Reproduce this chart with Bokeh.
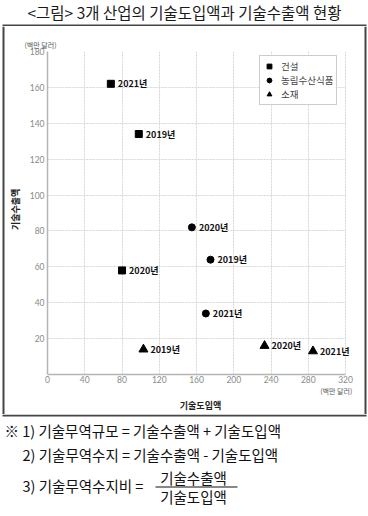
from bokeh.plotting import figure
from bokeh.layouts import column, row
from bokeh.models import (Range1d, FixedTicker, LabelSet, ColumnDataSource, Legend,
                          LegendItem, Title, LinearAxis)
from bokeh.core.properties import value
from bokeh.embed import file_html
from bokeh.resources import INLINE

# ---- data ----
years = ["2019년", "2020년", "2021년"]
industries = ["건설", "농림수산식품", "소재"]
construction_import = [98, 80, 68]
construction_export = [134, 58, 162]
agri_import = [175, 155, 170]
agri_export = [64, 82, 34]
material_import = [103, 233, 285]
material_export = [14, 16, 13]
x_ticks = [0, 40, 80, 120, 160, 200, 240, 280, 320]
y_ticks = [20, 40, 60, 80, 100, 120, 140, 160, 180]

title_text = "<그림> 3개 산업의 기술도입액과 기술수출액 현황"
unit_text = "(백만 달러)"
x_title = "기술도입액"
y_title = "기술수출액"
note1 = "※ 1) 기술무역규모 = 기술수출액 + 기술도입액"
note2 = "2) 기술무역수지 = 기술수출액 - 기술도입액"
note3 = "3) 기술무역수지비 ="
frac_num = "기술수출액"
frac_den = "기술도입액"

KR = "Noto Sans CJK KR"
TICKF = "Lato"
W = 368
FRAME = "#454545"


def blank(width, height, x0, x1, y_top, y_bottom):
    f = figure(width=width, height=height, x_range=Range1d(x0, x1),
               y_range=Range1d(y_bottom, y_top), output_backend="svg", toolbar_location=None,
               x_axis_location=None, y_axis_location=None, frame_align=False,
               min_border_left=0, min_border_right=0, min_border_top=0, min_border_bottom=0)
    f.outline_line_color = None
    f.xgrid.visible = False
    f.ygrid.visible = False
    return f


def no_ticks(ax):
    ax.major_tick_line_color = None
    ax.minor_tick_line_color = None
    ax.major_tick_out = 0
    ax.major_tick_in = 0
    ax.minor_tick_out = 0
    ax.minor_tick_in = 0


# ---- title strip (page y 0..26) with the top edge of the frame box ----
ft = blank(W, 26, 0, W, 0, 26)
ft.text(x=[W / 2], y=[11.5], text=[title_text], text_font=value(KR), text_font_size="15.5px",
        text_color="#1a1a1a", text_align="center", text_baseline="middle")
ft.segment(x0=[2], y0=[25], x1=[366], y1=[25], line_color=FRAME, line_width=2)

# ---- side strips (page y 26..414) with the vertical edges of the frame box ----
ls = blank(6, 388, 0, 6, 26, 414)
ls.segment(x0=[3], y0=[26], x1=[3], y1=[414], line_color=FRAME, line_width=2)
rs = blank(6, 388, 362, 368, 26, 414)
rs.segment(x0=[365], y0=[26], x1=[365], y1=[414], line_color=FRAME, line_width=2)

# ---- chart (page x 6..362, y 26..414); frame runs a little past 320 so labels are not cut ----
X_END = 328.5
p = figure(width=356, height=388, x_range=Range1d(0, X_END), y_range=Range1d(0, 180),
           output_backend="svg", toolbar_location=None, frame_align=False,
           min_border_left=38, min_border_right=9, min_border_top=25, min_border_bottom=39)
p.outline_line_color = None
p.background_fill_color = "white"
p.border_fill_color = "white"

for ax in (p.xaxis[0], p.yaxis[0]):
    ax.axis_line_color = "#b5b5b5"
    ax.axis_line_width = 1.5
    no_ticks(ax)
    ax.major_label_text_font = TICKF
    ax.major_label_text_font_size = "8.5px"
    ax.major_label_text_color = "#8a8a8a"
p.xaxis.ticker = FixedTicker(ticks=x_ticks)
p.yaxis.ticker = FixedTicker(ticks=y_ticks)
p.xaxis.bounds = (0, 320)
p.xaxis.major_label_standoff = 1
p.yaxis.major_label_standoff = 3

p.xgrid.ticker = FixedTicker(ticks=x_ticks[1:])
p.ygrid.ticker = FixedTicker(ticks=y_ticks)
p.ygrid.cross_bounds = (0, 320)
for g in (p.xgrid[0], p.ygrid[0]):
    g.grid_line_color = "#d6d6d6"
    g.grid_line_dash = "2 1"
    g.grid_line_width = 1

r1 = p.scatter(construction_import, construction_export, marker="square", size=7, color="black")
r2 = p.scatter(agri_import, agri_export, marker="circle", size=7, color="black")
r3 = p.scatter(material_import, material_export, marker="triangle", size=9, color="black")

for xs, ys in ((construction_import, construction_export), (agri_import, agri_export),
               (material_import, material_export)):
    src = ColumnDataSource(dict(x=xs, y=ys, t=years))
    p.add_layout(LabelSet(x="x", y="y", text="t", source=src, x_offset=7, y_offset=0,
                          text_baseline="middle", text_align="left", text_font=value(KR),
                          text_font_style="bold", text_font_size="9px", text_color="#111111"))

legend = Legend(items=[LegendItem(label=industries[0], renderers=[r1]),
                       LegendItem(label=industries[1], renderers=[r2]),
                       LegendItem(label=industries[2], renderers=[r3])],
                location=(212, 269), orientation="vertical")
legend.label_text_font = KR
legend.label_text_font_size = "9.5px"
legend.label_text_color = "#444444"
legend.glyph_width = 12
legend.glyph_height = 12
legend.label_height = 12
legend.label_standoff = 6
legend.spacing = 0
legend.padding = 3
legend.margin = 0
legend.border_line_color = "#9a9a9a"
legend.border_line_width = 1
legend.background_fill_color = "white"
legend.background_fill_alpha = 1
p.add_layout(legend, "center")

# unit label above the y axis
p.add_layout(Title(text=unit_text, align="left", offset=-23, standoff=3, text_font=KR,
                   text_font_size="7px", text_font_style="normal", text_color="#555555"), "above")

# second bottom axis: unit label under the 320 tick and the x-axis title
x2 = LinearAxis(ticker=FixedTicker(ticks=[310]), major_label_overrides={310: unit_text},
                bounds=(0, 320), axis_label=x_title)
x2.axis_line_color = None
no_ticks(x2)
x2.major_label_standoff = 0
x2.major_label_text_font = KR
x2.major_label_text_font_size = "7px"
x2.major_label_text_color = "#555555"
x2.axis_label_standoff = 0
x2.axis_label_text_font = KR
x2.axis_label_text_font_size = "9px"
x2.axis_label_text_font_style = "bold"
x2.axis_label_text_color = "#222222"
p.add_layout(x2, "below")

# second left axis carrying the y-axis title
y2 = LinearAxis(ticker=FixedTicker(ticks=[92]), major_label_overrides={92: y_title},
                major_label_orientation="vertical")
y2.axis_line_color = None
no_ticks(y2)
y2.major_label_standoff = 4
y2.major_label_text_font = KR
y2.major_label_text_font_size = "9px"
y2.major_label_text_font_style = "bold"
y2.major_label_text_color = "#222222"
p.add_layout(y2, "left")

# ---- notes (page y 414..516) with the bottom edge of the frame box ----
fn = blank(W, 102, 0, W, 414, 516)
fn.segment(x0=[2], y0=[415], x1=[366], y1=[415], line_color=FRAME, line_width=2)
NOTE = dict(text_font=value(KR), text_font_size="14.5px", text_color="#111111",
            text_baseline="middle")
fn.text(x=[4], y=[430], text=[note1], text_align="left", **NOTE)
fn.text(x=[22], y=[454], text=[note2], text_align="left", **NOTE)
fn.text(x=[22], y=[485], text=[note3], text_align="left", **NOTE)
fn.text(x=[193], y=[477], text=[frac_num], text_align="center", **NOTE)
fn.text(x=[193], y=[496], text=[frac_den], text_align="center", **NOTE)
fn.segment(x0=[155], y0=[486.5], x1=[237], y1=[486.5], line_color="#111111", line_width=1.2)

layout = column(ft, row(ls, p, rs, spacing=0), fn, spacing=0)
open("out.html", "w").write(file_html(layout, INLINE))
